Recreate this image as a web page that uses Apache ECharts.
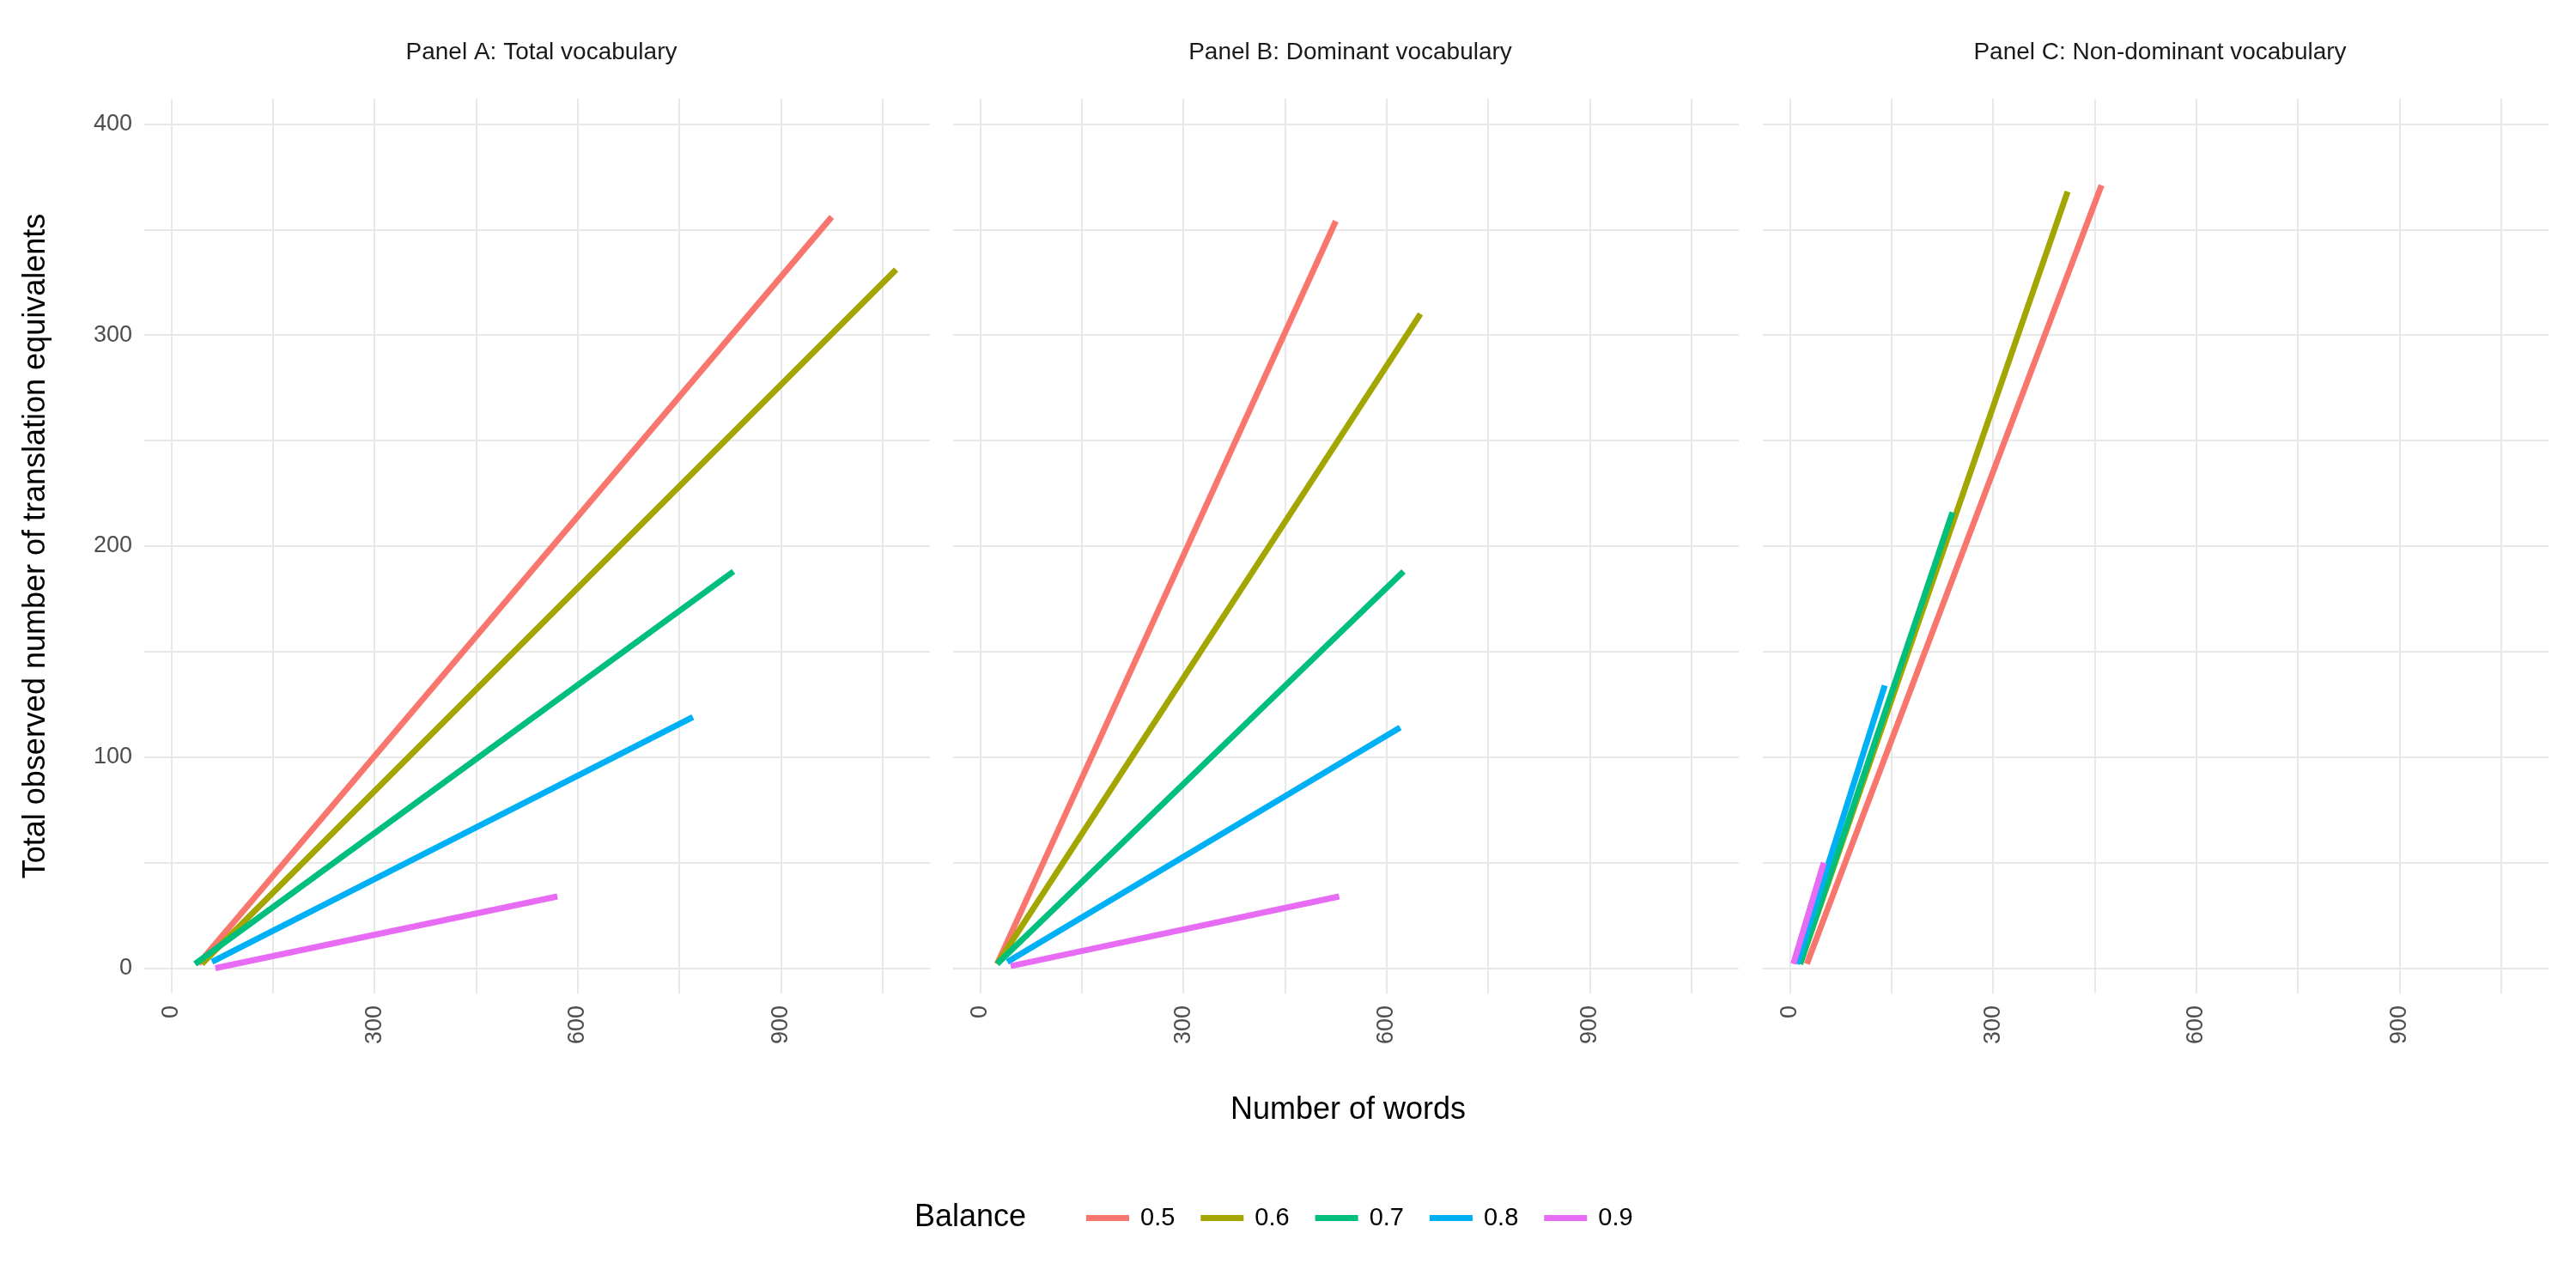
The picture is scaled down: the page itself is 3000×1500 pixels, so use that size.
<!DOCTYPE html>
<html lang="en">
<head>
    <meta charset="UTF-8">
    <title>Translation equivalents</title>
    <script src="https://cdn.jsdelivr.net/npm/echarts@6/dist/echarts.min.js"></script>
</head>
<body style="margin:0;background:#fff;">
    <div id="chart" style="width:3000px;height:1500px;"></div>
    <script>
    // data: [x start, y start, x end, y end] per balance level
    var panels = ['Panel A: Total vocabulary', 'Panel B: Dominant vocabulary', 'Panel C: Non-dominant vocabulary'];
    var balances = ['0.5', '0.6', '0.7', '0.8', '0.9'];
    var colors = ['#F8766D', '#A3A500', '#00BF7D', '#00B0F6', '#E76BF3'];
    var panelA = [[40, 2, 975, 356], [45, 2, 1070, 331], [35, 2, 830, 188], [60, 3, 770, 119], [65, 0, 570, 34]];
    var panelB = [[25, 2, 525, 354], [25, 2, 650, 310], [25, 2, 625, 188], [40, 3, 620, 114], [45, 1, 530, 34]];
    var panelC = [[25, 2, 460, 371], [15, 2, 410, 368], [15, 2, 240, 216], [10, 2, 140, 134], [5, 2, 50, 50]];
    var xTicks = [0, 150, 300, 450, 600, 750, 900, 1050];
    var xLabels = [0, 300, 600, 900];
    var yTicks = [0, 50, 100, 150, 200, 250, 300, 350, 400];
    var yLabels = [0, 100, 200, 300, 400];

    var chart = echarts.init(document.getElementById('chart'));
    var lefts = [168, 1110, 2053];
    var width = 915;
    var allData = [panelA, panelB, panelC];
    var grids = [], xAxes = [], yAxes = [], series = [], titles = [];
    for (var p = 0; p < 3; p++) {
        grids.push({left: lefts[p], width: width, top: 115, height: 1042});
        titles.push({text: panels[p], left: lefts[p] + width / 2, top: 42, textAlign: 'center',
            textStyle: {fontSize: 28, fontWeight: 'normal', color: '#1a1a1a', fontFamily: 'Liberation Sans'}});
        xAxes.push({type: 'value', gridIndex: p, min: -40, max: 1120,
            axisLine: {show: false}, axisTick: {show: false, customValues: xTicks},
            splitLine: {show: true, lineStyle: {color: '#e8e8e8', width: 2}},
            axisLabel: {customValues: xLabels, rotate: 90, fontSize: 27, color: '#4d4d4d', margin: 14, fontFamily: 'Liberation Sans'}});
        yAxes.push({type: 'value', gridIndex: p, min: -12, max: 412,
            axisLine: {show: false}, axisTick: {show: false, customValues: yTicks},
            splitLine: {show: true, lineStyle: {color: '#e8e8e8', width: 2}},
            axisLabel: {show: p === 0, customValues: yLabels, fontSize: 27, color: '#4d4d4d', margin: 14, fontFamily: 'Liberation Sans'}});
        for (var i = 0; i < balances.length; i++) {
            var d = allData[p][i];
            series.push({type: 'line', name: balances[i], xAxisIndex: p, yAxisIndex: p,
                data: [[d[0], d[1]], [d[2], d[3]]], showSymbol: false, silent: true,
                lineStyle: {color: colors[i], width: 7}, itemStyle: {color: colors[i]}});
        }
    }
    titles.push({text: 'Number of words', left: 1565, top: 1270, textAlign: 'center',
        textStyle: {fontSize: 36, fontWeight: 'normal', color: '#000', fontFamily: 'Liberation Sans'}});

    chart.setOption({
        animation: false,
        title: titles,
        grid: grids,
        xAxis: xAxes,
        yAxis: yAxes,
        series: series,
        legend: {data: balances, bottom: 62, left: 1260, itemWidth: 50, itemHeight: 7, itemGap: 30,
            icon: 'rect', textStyle: {fontSize: 29, color: '#000', fontFamily: 'Liberation Sans', padding: [0, 0, 0, 8]}},
        graphic: [
            {type: 'text', left: 1065, top: 1400, style: {text: 'Balance', fontSize: 36, fill: '#000', fontFamily: 'Liberation Sans'}},
            {type: 'text', x: 42, y: 636, rotation: Math.PI / 2, style: {text: 'Total observed number of translation equivalents',
                fontSize: 36, fill: '#000', fontFamily: 'Liberation Sans', align: 'center', verticalAlign: 'middle'}}
        ]
    });
    </script>
</body>
</html>
